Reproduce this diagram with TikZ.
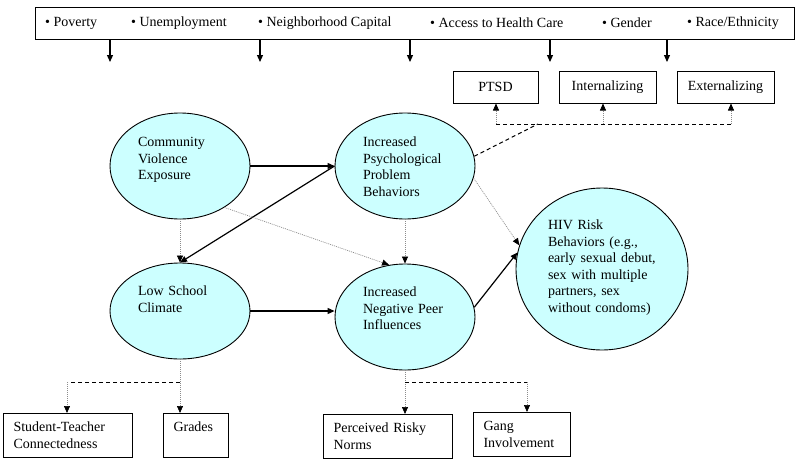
\documentclass[tikz,border=0pt]{standalone}
\usepackage{fontspec}
\setmainfont{Liberation Serif}
\usetikzlibrary{shapes.geometric,arrows.meta}
\definecolor{ovalfill}{RGB}{204,255,255}
\definecolor{dotgray}{RGB}{140,140,140}

\begin{document}
\begin{tikzpicture}[x=1pt,y=-1pt,
  every node/.style={font=\fontsize{14}{16.5}\selectfont},
  oval/.style={ellipse, draw, fill=ovalfill, line width=0.9pt, inner sep=0pt,
    text width=84pt, align=left, text height=10pt, minimum width=140pt, minimum height=106pt},
  outbox/.style={draw, line width=1pt, anchor=north west, inner xsep=10pt, inner ysep=5pt,
    align=left, text height=13pt, text depth=21pt},
  topbox/.style={draw, line width=1pt, minimum height=32pt, inner sep=0pt},
  item/.style={anchor=west, inner sep=0pt},
  arr/.style={line width=1.2pt, -{Triangle[length=7pt,width=6pt]}},
  dotarr/.style={dotgray, line width=0.7pt, dash pattern=on 1pt off 1pt,
    -{Triangle[length=7pt,width=6pt,color=black]}},
  dashln/.style={line width=1pt, dash pattern=on 4pt off 3pt}]
\useasboundingbox (0,0) rectangle (800,463);

% contextual factors
\node[draw, line width=1pt, minimum width=759pt, minimum height=32pt, inner sep=0pt] (bar) at (414.5,23) {};
\node[item] (pov) at (45,23) {• Poverty};
\node[item] (unemp) at (131,23) {• Unemployment};
\node[item] (nbh) at (258,23) {• Neighborhood Capital};
\node[item] (acc) at (430,23) {• Access to Health Care};
\node[item] (gen) at (602,23) {• Gender};
\node[item] (race) at (687,23) {• Race/Ethnicity};
\foreach \x [count=\i] in {110,260,410,550,667} {
  \coordinate (ft\i) at (\x,62);
  \draw[arr] (bar.south -| ft\i) -- (ft\i);
}

% model
\node[oval, text depth=49pt] (cve) at (180,166) {Community\\Violence\\Exposure};
\node[oval, text depth=49pt] (psy) at (405,166) {Increased\\Psychological\\Problem\\Behaviors};
\node[oval, text depth=41pt, minimum height=96pt] (lsc) at (180,311) {Low School\\Climate};
\node[oval, text depth=51pt] (npi) at (405,317) {Increased\\Negative Peer\\Influences};
\node[oval, text depth=89pt, text width=108pt, minimum width=172pt, minimum height=162pt] (hiv) at (602,269)
  {HIV Risk\\Behaviors (e.g.,\\early sexual debut,\\sex with multiple\\partners, sex\\without condoms)};

\draw[arr] (cve.east) -- (psy.west);
\draw[arr] (psy.west) -- (lsc.north);
\draw[arr] (lsc.east) -- (lsc.east -| npi.west);
\draw[arr] (npi.8) -- (hiv.169);
\draw[dotarr] (cve.south) -- (lsc.north);
\draw[dotarr] (cve.-43) -- (npi.107);
\draw[dotarr] (psy.south) -- (npi.north);
\draw[dotarr] (psy.-10) -- (hiv.164);

% psychological indicators
\node[topbox, minimum width=85pt] (ptsd) at (495.5,87) {PTSD};
\node[topbox, minimum width=97pt] (intl) at (607.5,87) {Internalizing};
\node[topbox, minimum width=97pt] (extl) at (725.5,87) {Externalizing};
\coordinate (pb1) at (496,124);
\coordinate (pb2) at (603,124);
\coordinate (pb3) at (731,124);
\coordinate (pbj) at (538,124);
\draw[dashln] (psy.8) -- (pbj);
\draw[dashln] (pb1) -- (pb3);
\draw[dotarr] (pb1) -- (pb1 |- ptsd.south);
\draw[dotarr] (pb2) -- (pb2 |- intl.south);
\draw[dotarr] (pb3) -- (pb3 |- extl.south);

% school and peer indicators
\node[outbox, text width=109pt] (stc) at (3,413) {Student-Teacher\\Connectedness};
\node[outbox, text width=45pt] (grd) at (163,413) {Grades};
\node[outbox, text width=109pt] (prn) at (323,414) {Perceived Risky\\Norms};
\node[outbox, text width=77pt] (gng) at (473,412) {Gang\\Involvement};
\coordinate (lsj) at (67,382);
\coordinate (npj) at (527,382);
\draw[dotarr] (lsc.south) -- (lsc.south |- grd.north);
\draw[dashln] (lsc.south |- lsj) -- (lsj);
\draw[dotarr] (lsj) -- (lsj |- stc.north);
\draw[dotarr] (npi.south) -- (npi.south |- prn.north);
\draw[dashln] (npi.south |- npj) -- (npj);
\draw[dotarr] (npj) -- (npj |- gng.north);
\end{tikzpicture}
\end{document}
